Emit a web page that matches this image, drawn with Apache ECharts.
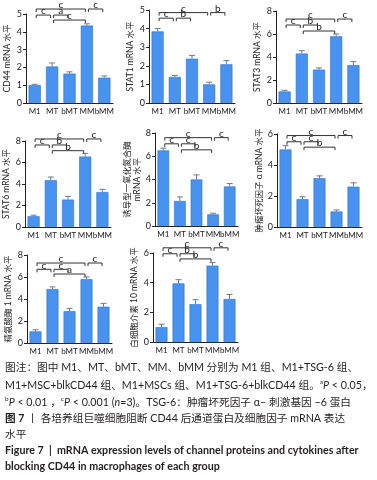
<!DOCTYPE html>
<html>
<head>
<meta charset="utf-8">
<script src="https://cdn.jsdelivr.net/npm/echarts@6/dist/echarts.min.js"></script>
<style>
  html, body { margin: 0; padding: 0; background: #fff; }
  #main { width: 377px; height: 480px; }
</style>
</head>
<body>
<div id="main"></div>
<script>
// groups on x axis
var groups = ['M1', 'MT', 'bMT', 'MM', 'bMM'];

// mean values and error (SD)
var cd44 = [1.0, 2.05, 1.65, 4.35, 1.42];
var cd44Err = [0.05, 0.2, 0.1, 0.1, 0.1];
var stat1 = [3.85, 1.4, 2.38, 1.0, 2.08];
var stat1Err = [0.15, 0.08, 0.18, 0.12, 0.2];
var stat3 = [1.0, 4.3, 2.9, 5.8, 3.3];
var stat3Err = [0.1, 0.25, 0.15, 0.2, 0.3];
var stat6 = [1.0, 4.35, 2.55, 6.55, 3.25];
var stat6Err = [0.1, 0.3, 0.3, 0.3, 0.25];
var inos = [6.5, 2.15, 4.0, 1.0, 3.4];
var inosErr = [0.2, 0.35, 0.4, 0.1, 0.25];
var tnf = [5.0, 1.8, 3.15, 1.0, 2.6];
var tnfErr = [0.25, 0.15, 0.15, 0.1, 0.25];
var arg1 = [1.05, 4.9, 2.9, 5.8, 3.3];
var arg1Err = [0.15, 0.2, 0.25, 0.2, 0.3];
var il10 = [1.0, 3.95, 2.55, 5.15, 2.9];
var il10Err = [0.2, 0.25, 0.3, 0.2, 0.3];

// significance brackets: [from, to, height, label]
var cd44Sig = [[0, 3, 5.28, 'c'], [3, 4, 5.28, 'c'], [0, 1, 4.94, 'c'], [1, 2, 4.94, 'a'], [1, 3, 4.66, 'c']];
var stat1Sig = [[0, 3, 4.86, 'c'], [3, 4, 4.86, 'b'], [0, 1, 4.56, 'c'], [1, 2, 4.56, 'b']];
var stat3Sig = [[0, 3, 7.3, 'c'], [3, 4, 7.3, 'c'], [0, 1, 6.78, 'c'], [1, 2, 6.78, 'b'], [1, 3, 6.26, 'b']];
var stat6Sig = [[0, 3, 8.19, 'c'], [3, 4, 8.19, 'c'], [0, 1, 7.63, 'c'], [1, 2, 7.63, 'b'], [1, 3, 7.1, 'b']];
var inosSig = [[0, 3, 7.6, 'c'], [3, 4, 7.6, 'c'], [0, 1, 7.07, 'c'], [1, 2, 7.07, 'c'], [1, 3, 6.55, 'b']];
var tnfSig = [[0, 3, 5.9, 'c'], [3, 4, 5.9, 'c'], [0, 1, 5.5, 'c'], [1, 2, 5.5, 'c'], [1, 3, 5.15, 'b']];
var arg1Sig = [[0, 3, 7.27, 'c'], [3, 4, 7.27, 'c'], [0, 1, 6.7, 'c'], [1, 2, 6.7, 'c'], [1, 3, 6.27, 'a']];
var il10Sig = [[0, 3, 6.35, 'c'], [3, 4, 6.35, 'c'], [0, 1, 5.95, 'c'], [1, 2, 5.95, 'b'], [1, 3, 5.6, 'b']];

var yNames = ['CD44 mRNA 水平', 'STAT1 mRNA 水平', 'STAT3 mRNA 水平', 'STAT6 mRNA 水平',
  '诱导型一氧化氮合酶\nmRNA 水平', '肿瘤坏死因子 α mRNA 水平', '精氨酸酶 1 mRNA 水平', '白细胞介素 10 mRNA 水平'];
var yMax = [5, 5, 8, 8, 8, 6, 8, 6];
var yStep = [1, 1, 2, 2, 2, 2, 2, 2];

var panels = [
  { v: cd44, e: cd44Err, s: cd44Sig },
  { v: stat1, e: stat1Err, s: stat1Sig },
  { v: stat3, e: stat3Err, s: stat3Sig },
  { v: stat6, e: stat6Err, s: stat6Sig },
  { v: inos, e: inosErr, s: inosSig },
  { v: tnf, e: tnfErr, s: tnfSig },
  { v: arg1, e: arg1Err, s: arg1Sig },
  { v: il10, e: il10Err, s: il10Sig }
];

// grid boxes [left, top, width, height]
var boxes = [
  [26, 14, 87, 89], [149, 10, 86, 93], [276, 11, 86, 92],
  [24, 141, 87, 86], [155, 133, 83, 93], [277, 134, 85, 93],
  [27, 255, 85, 88], [153, 253, 85, 89]
];
var nameGaps = [14, 14, 14, 14, 12, 13, 14, 14];

var font = 'Lato, "Noto Sans CJK SC", sans-serif';
var ink = '#222';

var chart = echarts.init(document.getElementById('main'), null, { renderer: 'canvas' });

var grids = [], xAxes = [], yAxes = [], series = [];
panels.forEach(function (p, i) {
  var b = boxes[i];
  grids.push({ left: b[0], top: b[1], width: b[2], height: b[3] });
  xAxes.push({
    type: 'category', gridIndex: i, data: groups,
    axisLine: { lineStyle: { color: ink, width: 1 } },
    axisTick: { alignWithLabel: true, length: 3, lineStyle: { color: ink } },
    axisLabel: { fontSize: 8, color: ink, margin: 4, interval: 0, fontFamily: font },
  });
  yAxes.push({
    type: 'value', gridIndex: i, min: 0, max: yMax[i], interval: yStep[i],
    name: yNames[i], nameLocation: 'middle', nameGap: nameGaps[i], nameRotate: 90,
    nameTextStyle: { fontSize: 8.5, color: ink, fontFamily: font, lineHeight: 10 },
    axisLine: { show: true, lineStyle: { color: ink, width: 1 } },
    axisTick: { show: true, length: 3, lineStyle: { color: ink } },
    axisLabel: { fontSize: 9, color: ink, margin: 4, fontFamily: font },
    splitLine: { show: false }
  });
  series.push({
    type: 'bar', xAxisIndex: i, yAxisIndex: i, data: p.v, barWidth: '70%',
    itemStyle: { color: '#4893f0', borderColor: '#2d6fc9', borderWidth: 0.6 },
    silent: true
  });
  series.push({
    type: 'custom', xAxisIndex: i, yAxisIndex: i, silent: true,
    data: p.v.map(function (v, k) { return [k, v, p.e[k]]; }),
    renderItem: function (params, api) {
      var k = api.value(0), v = api.value(1), e = api.value(2);
      var lo = api.coord([k, v]);
      var hi = api.coord([k, v + e]);
      var st = { stroke: '#6b7b90', lineWidth: 1 };
      return {
        type: 'group', children: [
          { type: 'line', shape: { x1: lo[0], y1: lo[1], x2: hi[0], y2: hi[1] }, style: st },
          { type: 'line', shape: { x1: hi[0] - 3, y1: hi[1], x2: hi[0] + 3, y2: hi[1] }, style: st }
        ]
      };
    },
    z: 3
  });
  series.push({
    type: 'custom', xAxisIndex: i, yAxisIndex: i, silent: true, clip: false,
    data: p.s,
    encode: { x: [0, 1], y: 2 },
    renderItem: function (params, api) {
      var a = api.coord([api.value(0), api.value(2)]);
      var c = api.coord([api.value(1), api.value(2)]);
      var x1 = a[0] + 1.5, x2 = c[0] - 1.5, y = a[1];
      var st = { stroke: '#333', lineWidth: 1 };
      return {
        type: 'group', children: [
          { type: 'polyline', shape: { points: [[x1, y + 3], [x1, y], [x2, y], [x2, y + 3]] }, style: Object.assign({ fill: null }, st) },
          { type: 'text', x: (x1 + x2) / 2, y: y + 1, style: {
            text: p.s[params.dataIndex][3], fill: '#222', fontSize: 10, fontFamily: font,
            align: 'center', verticalAlign: 'bottom' } }
        ]
      };
    },
    z: 4
  });
});

// caption under the figure
var fs = 10.7;
var cap = { fontSize: fs, fill: '#231f20', fontFamily: font };
var rich = {
  sup: { fontSize: 6.5, verticalAlign: 'top', padding: [0, 0, 6, 0], fontFamily: font, fill: '#231f20' },
  i: { fontStyle: 'italic', fontSize: fs, fontFamily: font, fill: '#231f20' },
  b: { fontWeight: 'bold', fontSize: fs, fontFamily: font, fill: '#231f20' }
};
function line(y, text, extra) {
  return {
    type: 'text', left: 5, top: y,
    style: Object.assign({ text: text, rich: rich }, cap, extra || {})
  };
}

chart.setOption({
  animation: false,
  grid: grids,
  xAxis: xAxes,
  yAxis: yAxes,
  series: series,
  graphic: [
    line(362, '图注：图中 M1、MT、bMT、MM、bMM 分别为 M1 组、M1+TSG-6 组、'),
    line(379, 'M1+MSC+blkCD44 组、M1+MSCs 组、M1+TSG-6+blkCD44 组。{sup|a}{i|P} < 0.05，'),
    line(396, '{sup|b}{i|P} < 0.01 ，{sup|c}{i|P} < 0.001 ({i|n}=3)。TSG-6：肿瘤坏死因子 α− 刺激基因 −6 蛋白'),
    line(413, '{b|图 7} 丨 各培养组巨噬细胞阻断 CD44 后通道蛋白及细胞因子 mRNA 表达'),
    line(429, '水平'),
    line(445, 'Figure 7  |  mRNA expression levels of channel proteins and cytokines after', { fontWeight: 'bold' }),
    line(461, 'blocking CD44 in macrophages of each group', { fontWeight: 'bold' })
  ]
});
</script>
</body>
</html>
